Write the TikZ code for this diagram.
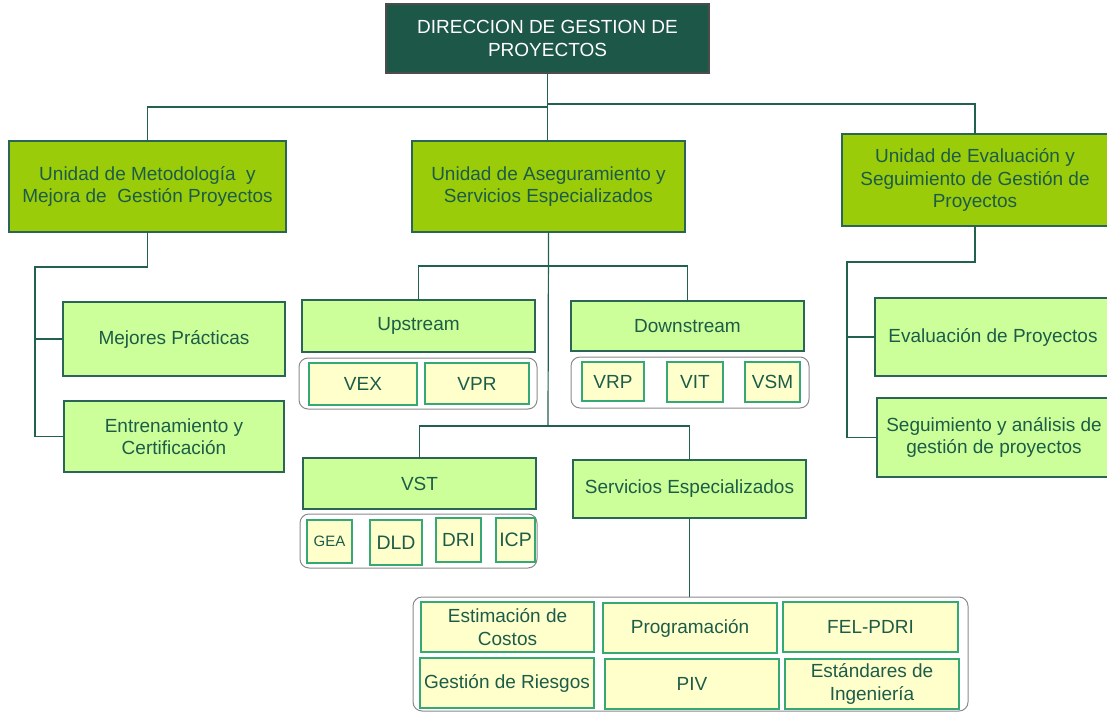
\documentclass[tikz,border=0pt]{standalone}
\usepackage{fontspec}
\setmainfont{Liberation Sans}
\definecolor{dirfill}{HTML}{1D5747}
\definecolor{unitfill}{HTML}{9ACC0A}
\definecolor{subfill}{HTML}{CCFF99}
\definecolor{leaffill}{HTML}{FFFFCC}
\definecolor{leafline}{HTML}{35A876}
\definecolor{boxline}{HTML}{2B6556}
\definecolor{grpline}{HTML}{8A8A8A}
\definecolor{linkcol}{HTML}{22604F}
\definecolor{txt}{HTML}{1C5C48}
% box from (x1,y1) to (x2,y2), y measured downwards
\newcommand{\bx}[7]{\node[#1, minimum width={(#5-#3)*1pt}, minimum height={(#6-#4)*1pt}] (#2) at ({(#3+#5)/2},{(#4+#6)/2}) {#7};}
\begin{document}
\begin{tikzpicture}[x=1pt,y=-1pt,
  base/.style={draw=boxline, line width=1.2pt, inner sep=0pt, outer sep=0pt, align=center, text=txt, font=\fontsize{19}{22.5}\selectfont},
  dirbox/.style={base, fill=dirfill, text=white, draw=gray!60!black},
  unitbox/.style={base, fill=unitfill},
  subbox/.style={base, fill=subfill},
  leafbox/.style={base, fill=leaffill, draw=leafline},
  groupbox/.style={draw=grpline, line width=1pt, rounded corners=9pt, fill=white, inner sep=0pt, outer sep=0pt},
  link/.style={draw=linkcol, line width=1.2pt}]
\useasboundingbox (0,0) rectangle (1107,712);

% junction points of the connector trees
\coordinate (jl) at (548,107);
\coordinate (jr) at (548,104);
\coordinate (jm1) at (548,266);
\coordinate (jm2) at (548,426);
\coordinate (kl) at (35,267);
\coordinate (kr) at (847,262);

% top
\bx{dirbox}{dir}{386}{4}{709}{73}{DIRECCION DE GESTION DE\\PROYECTOS}

% units
\bx{unitbox}{u1}{9}{141}{286}{232}{Unidad de Metodología\ \ y\\Mejora de\ \ Gestión Proyectos}
\bx{unitbox}{u2}{412}{141}{685}{232}{Unidad de Aseguramiento y\\Servicios Especializados}
\bx{unitbox}{u3}{842}{134}{1108}{226}{Unidad de Evaluación y\\Seguimiento de Gestión de\\Proyectos}

% left branch
\bx{subbox}{mp}{63}{302}{285}{376}{Mejores Prácticas}
\bx{subbox}{ec}{64}{401}{284}{472}{Entrenamiento y\\Certificación}

% right branch
\bx{subbox}{ev}{875}{298}{1111}{376}{Evaluación de Proyectos}
\bx{subbox}{sg}{877}{398}{1111}{477}{Seguimiento y análisis de\\gestión de proyectos}

% middle branch
\bx{subbox}{up}{302}{300}{535}{352}{Upstream}
\bx{subbox}{dn}{571}{301}{804}{351}{Downstream}
\bx{groupbox}{g1}{299}{358}{537}{409}{}
\bx{groupbox}{g2}{571}{357}{809}{408}{}
\bx{leafbox}{vex}{309}{363}{417}{405}{VEX}
\bx{leafbox}{vpr}{425}{363}{529}{404}{VPR}
\bx{leafbox}{vrp}{582}{362}{644}{401}{VRP}
\bx{leafbox}{vit}{667}{362}{723}{402}{VIT}
\bx{leafbox}{vsm}{745}{362}{800}{402}{VSM}

\bx{subbox}{vst}{303}{458}{536}{509}{VST}
\bx{subbox}{sv}{573}{460}{806}{518}{Servicios Especializados}
\bx{groupbox}{g3}{300}{514}{537}{568}{}
\bx{leafbox, font=\fontsize{15}{18}\selectfont}{gea}{307}{520}{352}{563}{GEA}
\bx{leafbox, font=\fontsize{19.5}{22}\selectfont}{dld}{370}{520}{422}{565}{DLD}
\bx{leafbox}{dri}{436}{518}{481}{562}{DRI}
\bx{leafbox, font=\fontsize{19.5}{22}\selectfont}{icp}{496}{518}{535}{562}{ICP}

\bx{groupbox}{g4}{413}{597}{968}{711}{}
\bx{leafbox}{costos}{421}{602}{594}{652}{Estimación de\\Costos}
\bx{leafbox}{prog}{603}{603}{777}{653}{Programación}
\bx{leafbox}{fel}{783}{602}{958}{652}{FEL-PDRI}
\bx{leafbox}{riesgos}{420}{658}{594}{708}{Gestión de Riesgos}
\bx{leafbox}{piv}{605}{659}{779}{709}{PIV}
\bx{leafbox}{estand}{785}{659}{959}{709}{Estándares de\\Ingeniería}

% connectors
\draw[link] (dir.south) -- (dir.south |- u2.north);
\draw[link] (jl) -| (u1.north);
\draw[link] (jr) -| (u3.north);
\draw[link] (u1.south) |- (kl) -- (kl |- ec.west) -- (ec.west);
\draw[link] (kl |- mp.west) -- (mp.west);
\draw[link] (u3.south) |- (kr) -- (kr |- sg.west) -- (sg.west);
\draw[link] (kr |- ev.west) -- (ev.west);
\draw[link] (u2.south) -- (jm2);
\draw[link] (jm1) -| (up.north);
\draw[link] (jm1) -| (dn.north);
\draw[link] (jm2) -| (vst.north);
\draw[link] (jm2) -| (sv.north);
\draw[link] (sv.south) -- (sv.south |- g4.north);
\end{tikzpicture}
\end{document}
